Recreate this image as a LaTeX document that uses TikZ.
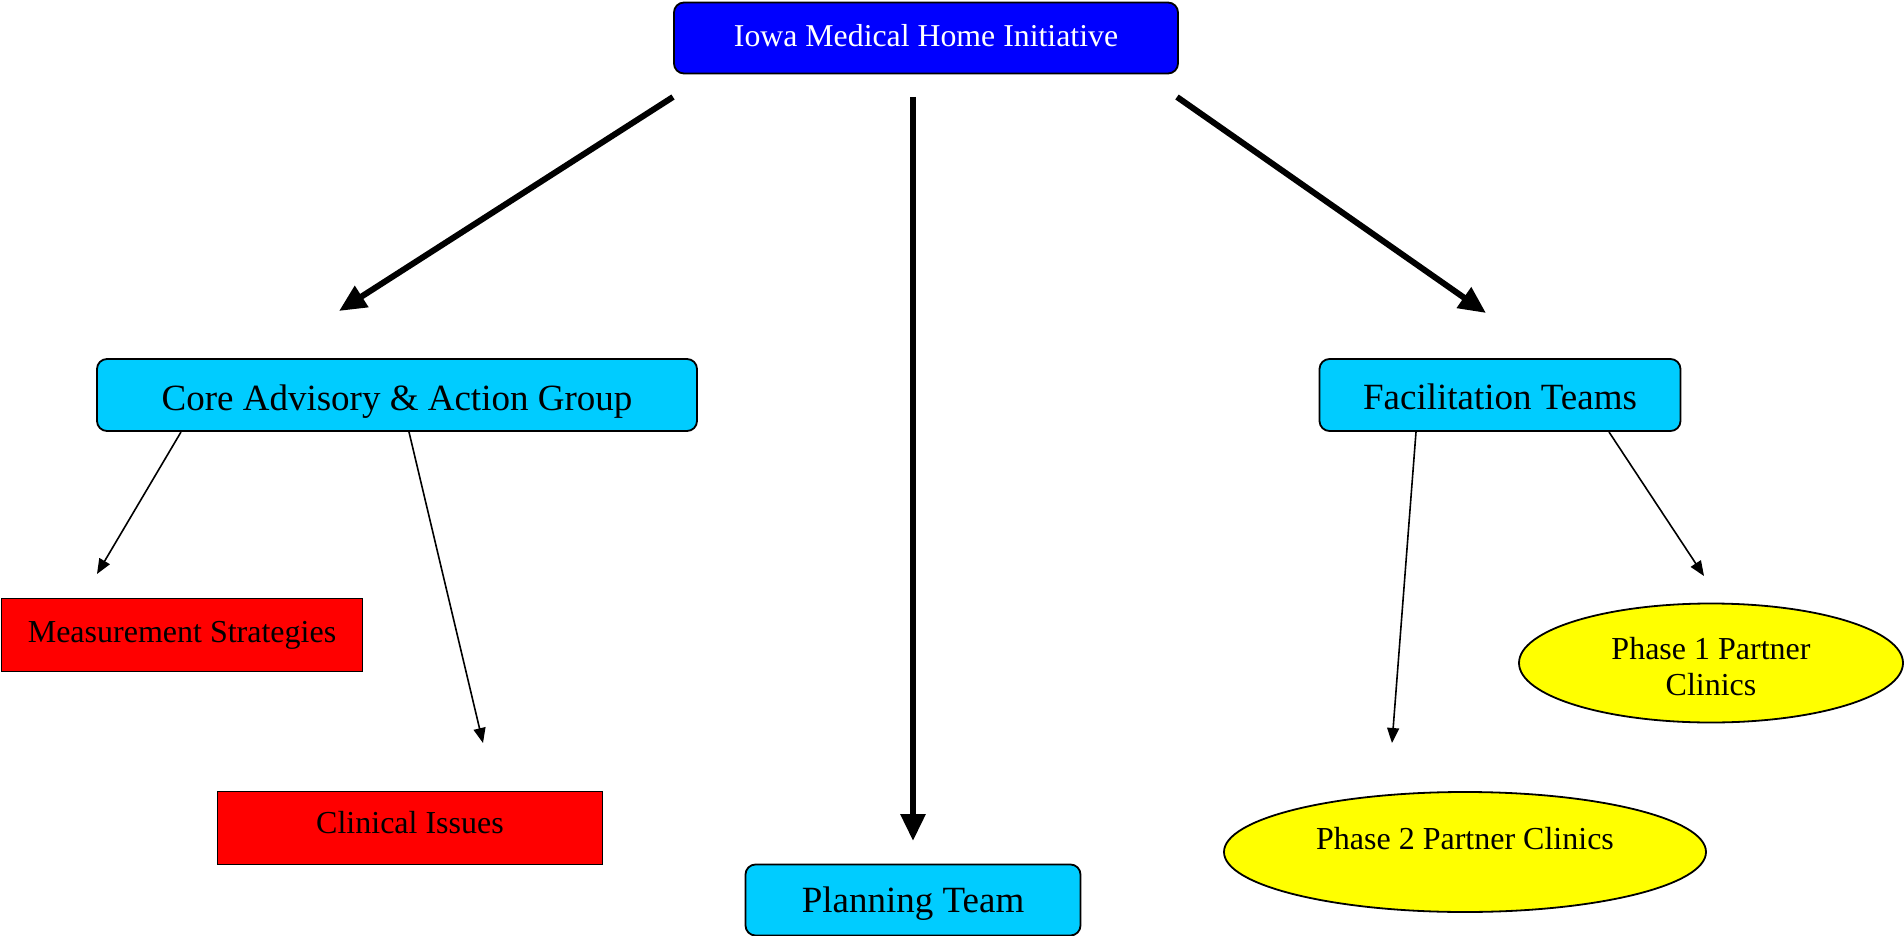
\documentclass[tikz,border=0pt]{standalone}
\usepackage{fontspec}
\setmainfont{Liberation Serif}
\usetikzlibrary{arrows.meta,shapes.geometric}
\definecolor{topblue}{HTML}{0000FF}
\definecolor{boxcyan}{HTML}{00CCFF}
\definecolor{boxred}{HTML}{FF0000}
\definecolor{boxyellow}{HTML}{FFFF00}
\tikzset{
  roundbox/.style={draw=black, line width=1.8pt, rounded corners=10pt, inner sep=0pt},
  topbox/.style={roundbox, fill=topblue},
  midbox/.style={roundbox, fill=boxcyan},
  redbox/.style={draw=black, line width=1.8pt, fill=boxred, inner sep=0pt},
  clinic/.style={draw=black, line width=1.8pt, ellipse, fill=boxyellow, inner sep=0pt},
  toptext/.style={text=white, inner sep=0pt, font=\fontsize{31.8}{38}\selectfont},
  midtext/.style={inner sep=0pt, font=\fontsize{37}{44}\selectfont},
  smalltext/.style={inner sep=0pt, align=center, font=\fontsize{32}{36}\selectfont},
  bigarrow/.style={line width=6pt, -{Triangle[length=27pt,width=24pt]}},
  smallarrow/.style={line width=1.6pt, -{Triangle[length=15pt,width=12pt]}}
}
\begin{document}
\begin{tikzpicture}[x=1pt,y=-1pt]
\useasboundingbox (0,0) rectangle (1904,936);
\node[topbox, minimum width=504pt, minimum height=71pt] (top) at (926,38) {};
\node[midbox, minimum width=600pt, minimum height=72pt] (core) at (397,395) {};
\node[midbox, minimum width=361pt, minimum height=72pt] (fac) at (1500,395) {};
\node[midbox, minimum width=335pt, minimum height=71pt] (plan) at (913,900) {};
\node[redbox, minimum width=361pt, minimum height=73pt] (meas) at (182,635) {};
\node[redbox, minimum width=385pt, minimum height=73pt] (clin) at (410,828) {};
\node[clinic, minimum width=384pt, minimum height=119pt] (ph1) at (1711,663) {};
\node[clinic, minimum width=482pt, minimum height=120pt] (ph2) at (1465,852) {};

\node[toptext] (top-t) at ([shift={(0,-2)}]top.center) {Iowa Medical Home Initiative};
\node[midtext] (core-t) at ([shift={(0,7)}]core.center) {Core Advisory \& Action Group};
\node[midtext] (fac-t) at ([shift={(0,2)}]fac.center) {Facilitation Teams};
\node[midtext] (plan-t) at ([shift={(0,4)}]plan.center) {Planning Team};
\node[smalltext] (meas-t) at (meas.center) {Measurement Strategies};
\node[smalltext] (clin-t) at ([shift={(0,-5)}]clin.center) {Clinical Issues};
\node[smalltext] (ph1-t) at ([shift={(0,4)}]ph1.center) {Phase 1 Partner\\Clinics};
\node[smalltext] (ph2-t) at ([shift={(0,-13)}]ph2.center) {Phase 2 Partner Clinics};

\coordinate (tl) at (673,97);
\coordinate (tm) at (913,97);
\coordinate (tr) at (1177,97);
\coordinate (el) at (339,311);
\coordinate (em) at (913,841);
\coordinate (er) at (1486,313);
\coordinate (cs1) at (181,432);
\coordinate (cs2) at (409,432);
\coordinate (fs1) at (1416,432);
\coordinate (fs2) at (1609,432);
\coordinate (me) at (97,574);
\coordinate (ce) at (483,743);
\coordinate (p2e) at (1392,743);
\coordinate (p1e) at (1704,576);

\draw[bigarrow] (tl) -- (el);
\draw[bigarrow] (tm) -- (em);
\draw[bigarrow] (tr) -- (er);
\draw[smallarrow] (cs1) -- (me);
\draw[smallarrow] (cs2) -- (ce);
\draw[smallarrow] (fs1) -- (p2e);
\draw[smallarrow] (fs2) -- (p1e);
\end{tikzpicture}
\end{document}
